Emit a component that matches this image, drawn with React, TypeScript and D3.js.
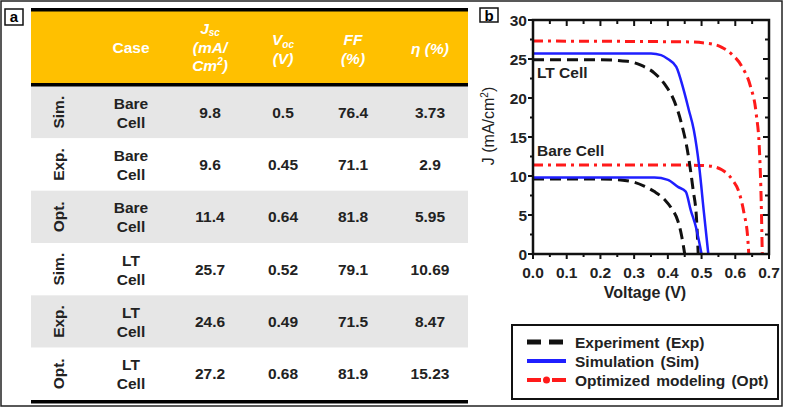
import React from "react";
import * as d3 from "d3";

// ---- Table data ----
const rowMethods = ["Sim.", "Exp.", "Opt.", "Sim.", "Exp.", "Opt."];
const rowCases = [["Bare", "Cell"], ["Bare", "Cell"], ["Bare", "Cell"], ["LT", "Cell"], ["LT", "Cell"], ["LT", "Cell"]];
const jscValues = ["9.8", "9.6", "11.4", "25.7", "24.6", "27.2"];
const vocValues = ["0.5", "0.45", "0.64", "0.52", "0.49", "0.68"];
const ffValues = ["76.4", "71.1", "81.8", "79.1", "71.5", "81.9"];
const etaValues = ["3.73", "2.9", "5.95", "10.69", "8.47", "15.23"];

// ---- J-V curves: [V, J] ----
const expBare: [number, number][] = [[0, 9.6], [0.2, 9.6], [0.26, 9.5], [0.3, 9.2], [0.33, 8.7], [0.36, 8.0], [0.39, 7.0], [0.41, 5.9], [0.43, 4.2], [0.44, 2.5], [0.45, 0]];
const expLT: [number, number][] = [[0, 24.9], [0.2, 24.9], [0.28, 24.7], [0.32, 24.2], [0.36, 23.2], [0.39, 21.8], [0.42, 19.5], [0.44, 16.8], [0.46, 12.8], [0.475, 8.2], [0.485, 4.5], [0.49, 0]];
const simBare: [number, number][] = [[0, 9.8], [0.36, 9.8], [0.4, 9.5], [0.43, 8.6], [0.453, 8.0], [0.468, 5.6], [0.483, 3.5], [0.5, 0]];
const simLT: [number, number][] = [[0, 25.7], [0.35, 25.7], [0.38, 25.5], [0.40, 25.0], [0.425, 24.0], [0.447, 21.0], [0.462, 18.5], [0.477, 15.9], [0.493, 11.2], [0.507, 5.3], [0.52, 0]];
const optBare: [number, number][] = [[0, 11.4], [0.45, 11.4], [0.52, 11.3], [0.56, 10.8], [0.59, 9.6], [0.612, 7.8], [0.626, 5.2], [0.637, 2.0], [0.64, 0]];
const optLT: [number, number][] = [[0, 27.3], [0.45, 27.2], [0.52, 27.0], [0.56, 26.5], [0.59, 25.6], [0.62, 24.0], [0.645, 21.5], [0.662, 18.0], [0.672, 13.0], [0.677, 6.5], [0.68, 0]];

const xTicks = [0, 0.1, 0.2, 0.3, 0.4, 0.5, 0.6, 0.7];
const yTicks = [0, 5, 10, 15, 20, 25, 30];
const legendLabels = ["Experiment (Exp)", "Simulation (Sim)", "Optimized modeling (Opt)"];

const FONT = "'Liberation Sans', Arial, sans-serif";

export default function App() {
  const W = 787, H = 410;
  // table geometry
  const tL = 31, tR = 468;
  const headTop = 11, headBot = 84;
  const rowTop = 86, rowBot = 400;
  const rowH = (rowBot - rowTop) / 6;
  const colX = [58, 131, 210, 283, 353, 430];

  const x = d3.scaleLinear().domain([0, 0.7]).range([533, 769]);
  const y = d3.scaleLinear().domain([0, 30]).range([254, 20]);
  const line = d3.line<[number, number]>().x(d => x(d[0])).y(d => y(d[1])).curve(d3.curveMonotoneX);

  const black = "#111";
  const blue = "#1f1fff";
  const red = "#ff1a1a";
  const expStyle = { stroke: black, strokeWidth: 3, strokeDasharray: "11,6", fill: "none" };
  const simStyle = { stroke: blue, strokeWidth: 2.5, fill: "none" };
  const optStyle = { stroke: red, strokeWidth: 3, strokeDasharray: "10,5,3,5", fill: "none" };

  const minorX = d3.range(0, 0.7001, 0.05);
  const minorY = d3.range(0, 30.001, 2.5);

  const numStyle = { fontFamily: FONT, fontWeight: 700, fontSize: 15.5, fill: "#222" } as const;

  return (
    <svg width={W} height={H} style={{ position: "absolute", left: 0, top: 0, background: "#fff" }}>
      {/* outer frame */}
      <rect x={1} y={1} width={781} height={405} fill="none" stroke="#222" strokeWidth={1.5} />

      {/* panel labels */}
      <rect x={5} y={9} width={18} height={16} fill="#fff" stroke="#111" strokeWidth={1.5} />
      <text x={14} y={22} textAnchor="middle" fontFamily={FONT} fontWeight={700} fontSize={15}>a</text>
      <rect x={480} y={8} width={18} height={14} fill="#fff" stroke="#111" strokeWidth={1.5} />
      <text x={489} y={20.5} textAnchor="middle" fontFamily={FONT} fontWeight={700} fontSize={15}>b</text>

      {/* ---- table ---- */}
      <rect x={tL} y={headTop} width={tR - tL} height={headBot - headTop} fill="#ffc000" />
      {rowMethods.map((m, i) => (
        <rect key={"bg" + i} x={tL} y={rowTop + i * rowH} width={tR - tL} height={rowH} fill={i % 2 === 0 ? "#e6e6e6" : "#fff"} />
      ))}
      <rect x={tL} y={8} width={tR - tL} height={3.5} fill="#000" />
      <rect x={tL} y={83} width={tR - tL} height={3.5} fill="#000" />
      <rect x={tL} y={400} width={tR - tL} height={3.5} fill="#000" />

      {/* header */}
      <g fontFamily={FONT} fontWeight={700} fill="#fff" fontSize={15.5}>
        <text x={colX[1]} y={52.5} textAnchor="middle">Case</text>
        <text x={colX[2]} y={33.5} textAnchor="middle" fontStyle="italic">J<tspan fontSize={10} dy={2}>sc</tspan></text>
        <text x={colX[2]} y={52.5} textAnchor="middle" fontStyle="italic">(mA/</text>
        <text x={colX[2]} y={71} textAnchor="middle" fontStyle="italic">Cm<tspan fontSize={10} dy={-6}>2</tspan><tspan dy={6}>)</tspan></text>
        <text x={colX[3]} y={45} textAnchor="middle" fontStyle="italic">V<tspan fontSize={10} dy={3}>oc</tspan></text>
        <text x={colX[3]} y={63.5} textAnchor="middle" fontStyle="italic">(V)</text>
        <text x={colX[4]} y={45} textAnchor="middle" fontStyle="italic">FF</text>
        <text x={colX[4]} y={63.5} textAnchor="middle" fontStyle="italic">(%)</text>
        <text x={colX[5]} y={54} textAnchor="middle" fontStyle="italic">η (%)</text>
      </g>

      {/* rows */}
      {rowMethods.map((m, i) => {
        const cy = rowTop + (i + 0.5) * rowH;
        return (
          <g key={"row" + i}>
            <text transform={`translate(${colX[0] + 6},${cy}) rotate(-90)`} textAnchor="middle" {...numStyle}>{m}</text>
            <text x={colX[1]} y={cy - 3.5} textAnchor="middle" {...numStyle}>{rowCases[i][0]}</text>
            <text x={colX[1]} y={cy + 15.5} textAnchor="middle" {...numStyle}>{rowCases[i][1]}</text>
            <text x={colX[2]} y={cy + 5.5} textAnchor="middle" {...numStyle}>{jscValues[i]}</text>
            <text x={colX[3]} y={cy + 5.5} textAnchor="middle" {...numStyle}>{vocValues[i]}</text>
            <text x={colX[4]} y={cy + 5.5} textAnchor="middle" {...numStyle}>{ffValues[i]}</text>
            <text x={colX[5]} y={cy + 5.5} textAnchor="middle" {...numStyle}>{etaValues[i]}</text>
          </g>
        );
      })}

      {/* ---- chart ---- */}
      <defs>
        <clipPath id="plotclip">
          <rect x={x(0)} y={y(30)} width={x(0.7) - x(0)} height={y(0) - y(30) + 2} />
        </clipPath>
      </defs>
      <g clipPath="url(#plotclip)">
        <path d={line(optLT) || ""} {...optStyle} />
        <path d={line(optBare) || ""} {...optStyle} />
        <path d={line(expLT) || ""} {...expStyle} />
        <path d={line(expBare) || ""} {...expStyle} />
        <path d={line(simLT) || ""} {...simStyle} />
        <path d={line(simBare) || ""} {...simStyle} />
      </g>

      {/* frame */}
      <rect x={x(0)} y={y(30)} width={x(0.7) - x(0)} height={y(0) - y(30)} fill="none" stroke="#111" strokeWidth={2.5} />
      {/* ticks */}
      {minorX.map((v, i) => (
        <g key={"tx" + i}>
          <line x1={x(v)} x2={x(v)} y1={y(30)} y2={y(30) + (i % 2 === 0 ? 6 : 4)} stroke="#111" strokeWidth={2} />
          <line x1={x(v)} x2={x(v)} y1={y(0)} y2={y(0) + (i % 2 === 0 ? 5 : 3)} stroke="#111" strokeWidth={2} />
        </g>
      ))}
      {minorY.map((v, i) => (
        <g key={"ty" + i}>
          <line x1={x(0)} x2={x(0) - (i % 2 === 0 ? 5 : 3)} y1={y(v)} y2={y(v)} stroke="#111" strokeWidth={2} />
          <line x1={x(0.7)} x2={x(0.7) - (i % 2 === 0 ? 6 : 4)} y1={y(v)} y2={y(v)} stroke="#111" strokeWidth={2} />
        </g>
      ))}
      {xTicks.map(v => (
        <text key={"xl" + v} x={x(v)} y={277.5} textAnchor="middle" {...numStyle} fontSize={15.5}>{d3.format(".1f")(v)}</text>
      ))}
      {yTicks.map(v => (
        <text key={"yl" + v} x={527} y={y(v) + 5.5} textAnchor="end" {...numStyle} fontSize={15.5}>{v}</text>
      ))}
      <text x={645} y={297.5} textAnchor="middle" {...numStyle} fontSize={16}>Voltage (V)</text>
      <text transform={`translate(494,126) rotate(-90)`} textAnchor="middle" fontFamily={FONT} fontSize={16} fill="#222">J (mA/cm<tspan fontSize={10} dy={-6}>2</tspan><tspan dy={6}>)</tspan></text>

      <text x={537} y={77.5} {...numStyle}>LT Cell</text>
      <text x={537} y={156} {...numStyle}>Bare Cell</text>

      {/* legend */}
      <rect x={512} y={325} width={266} height={74} fill="#fff" stroke="#111" strokeWidth={2} />
      <line x1={527} x2={566} y1={342} y2={342} stroke={black} strokeWidth={5} strokeDasharray="14,8" />
      <line x1={527} x2={566} y1={361} y2={361} stroke={blue} strokeWidth={4} />
      <line x1={527} x2={541} y1={380} y2={380} stroke={red} strokeWidth={4} />
      <circle cx={546.5} cy={380} r={3.5} fill={red} />
      <line x1={552} x2={566} y1={380} y2={380} stroke={red} strokeWidth={4} />
      {legendLabels.map((l, i) => (
        <text key={"lg" + i} x={575} y={347.5 + i * 19} {...numStyle} fontSize={15.5} wordSpacing={2}>{l}</text>
      ))}
    </svg>
  );
}
